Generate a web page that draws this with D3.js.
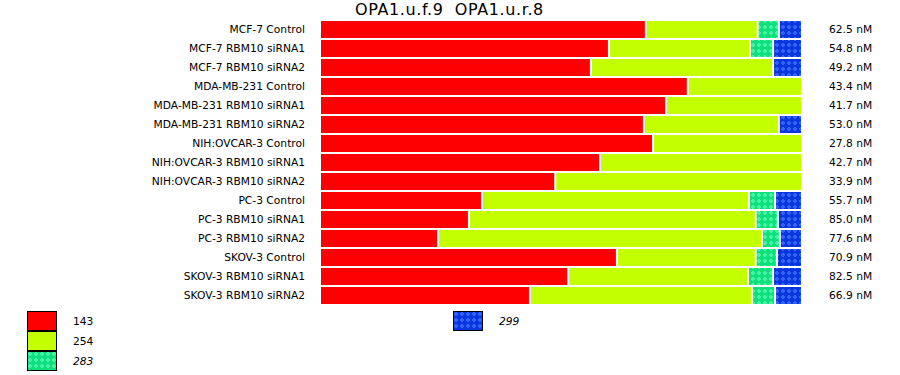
<!DOCTYPE html>
<html lang="en">
<head>
<meta charset="UTF-8">
<title>OPA1 stacked bars</title>
<script src="https://d3js.org/d3.v7.min.js"></script>
<style>
    body { margin: 0; background: #fff; }
    text { font-family: "DejaVu Sans", Verdana, sans-serif; fill: #000; }
</style>
</head>
<body>
<div id="chart"></div>
<script>
const title = "OPA1.u.f.9\u00a0\u00a0OPA1.u.r.8";

const categories = [
    "MCF-7 Control", "MCF-7 RBM10 siRNA1", "MCF-7 RBM10 siRNA2",
    "MDA-MB-231 Control", "MDA-MB-231 RBM10 siRNA1", "MDA-MB-231 RBM10 siRNA2",
    "NIH:OVCAR-3 Control", "NIH:OVCAR-3 RBM10 siRNA1", "NIH:OVCAR-3 RBM10 siRNA2",
    "PC-3 Control", "PC-3 RBM10 siRNA1", "PC-3 RBM10 siRNA2",
    "SKOV-3 Control", "SKOV-3 RBM10 siRNA1", "SKOV-3 RBM10 siRNA2"
];
const concentrations = [
    "62.5 nM", "54.8 nM", "49.2 nM", "43.4 nM", "41.7 nM", "53.0 nM", "27.8 nM",
    "42.7 nM", "33.9 nM", "55.7 nM", "85.0 nM", "77.6 nM", "70.9 nM", "82.5 nM", "66.9 nM"
];

// share of each product size per sample (%)
const keys = ["143", "254", "283", "299"];
const s143 = [67.6, 60.0, 56.2, 76.3, 71.8, 67.2, 69.1, 58.1, 48.8, 33.6, 30.9, 24.5, 61.6, 51.5, 43.6];
const s254 = [23.2, 29.3, 37.8, 23.7, 28.2, 28.0, 30.9, 41.9, 51.2, 55.4, 59.5, 67.2, 28.8, 37.3, 46.1];
const s283 = [4.4, 4.8, 0, 0, 0, 0, 0, 0, 0, 5.4, 4.6, 3.7, 4.4, 5.2, 4.8];
const s299 = [4.8, 6.0, 6.0, 0, 0, 4.8, 0, 0, 0, 5.6, 5.0, 4.6, 5.2, 6.0, 5.6];

const rows = categories.map((c, i) => ({
    name: c, conc: concentrations[i],
    "143": s143[i], "254": s254[i], "283": s283[i], "299": s299[i]
}));

const W = 900, H = 375;
const svg = d3.select("#chart").append("svg")
    .attr("width", W).attr("height", H);

// dotted fills
const defs = svg.append("defs");
const patterns = [
    { id: "p283", base: "#10e07c", dot: "#44f4a4" },
    { id: "p299", base: "#0a36e0", dot: "#3462f6" }
];
patterns.forEach(p => {
    const pat = defs.append("pattern")
        .attr("id", p.id)
        .attr("patternUnits", "userSpaceOnUse")
        .attr("width", 6).attr("height", 6);
    pat.append("rect").attr("width", 6).attr("height", 6).attr("fill", p.base);
    pat.append("rect").attr("x", 1).attr("y", 2).attr("width", 4).attr("height", 2).attr("fill", p.dot);
    pat.append("rect").attr("x", 2).attr("y", 1).attr("width", 2).attr("height", 4).attr("fill", p.dot);
});

const color = d3.scaleOrdinal()
    .domain(keys)
    .range(["#ff0000", "#c4ff00", "url(#p283)", "url(#p299)"]);

const x = d3.scaleLinear().domain([0, 1]).range([321, 803]);
const y = d3.scaleBand()
    .domain(categories)
    .range([21, 304])
    .paddingInner(2 / 19);

const stacked = d3.stack().keys(keys).offset(d3.stackOffsetExpand)(rows);

svg.append("text")
    .attr("x", 449.5).attr("y", 15)
    .attr("text-anchor", "middle")
    .style("font-size", "16px")
    .style("letter-spacing", "0.6px")
    .text(title);

svg.append("g")
    .selectAll("g")
    .data(stacked)
    .join("g")
    .attr("fill", d => color(d.key))
    .selectAll("rect")
    .data(d => d.filter(s => s[1] - s[0] > 0))
    .join("rect")
    .attr("x", s => x(s[0]))
    .attr("y", s => y(s.data.name))
    .attr("width", s => Math.max(0, x(s[1]) - x(s[0]) - 2))
    .attr("height", y.bandwidth());

// sample names
svg.append("g")
    .selectAll("text")
    .data(rows)
    .join("text")
    .attr("x", 305)
    .attr("y", d => y(d.name) + y.bandwidth() / 2)
    .attr("dy", "0.35em")
    .attr("text-anchor", "end")
    .style("font-size", "10.7px")
    .text(d => d.name);

// concentrations
svg.append("g")
    .selectAll("text")
    .data(rows)
    .join("text")
    .attr("x", 829)
    .attr("y", d => y(d.name) + y.bandwidth() / 2)
    .attr("dy", "0.35em")
    .style("font-size", "10.7px")
    .text(d => d.conc);

// legend
const legendPos = [[27, 311], [27, 331], [27, 351], [453, 311]];
const legend = svg.append("g")
    .selectAll("g")
    .data(keys)
    .join("g")
    .attr("transform", (d, i) => `translate(${legendPos[i][0]},${legendPos[i][1]})`);
legend.append("rect")
    .attr("x", 0.5).attr("y", 0.5)
    .attr("width", 29).attr("height", 19)
    .attr("fill", d => color(d))
    .attr("stroke", "#000");
legend.append("text")
    .attr("x", 46).attr("y", 10)
    .attr("dy", "0.35em")
    .style("font-size", "10.7px")
    .style("font-style", (d, i) => i >= 2 ? "italic" : "normal")
    .text(d => d);
</script>
</body>
</html>
